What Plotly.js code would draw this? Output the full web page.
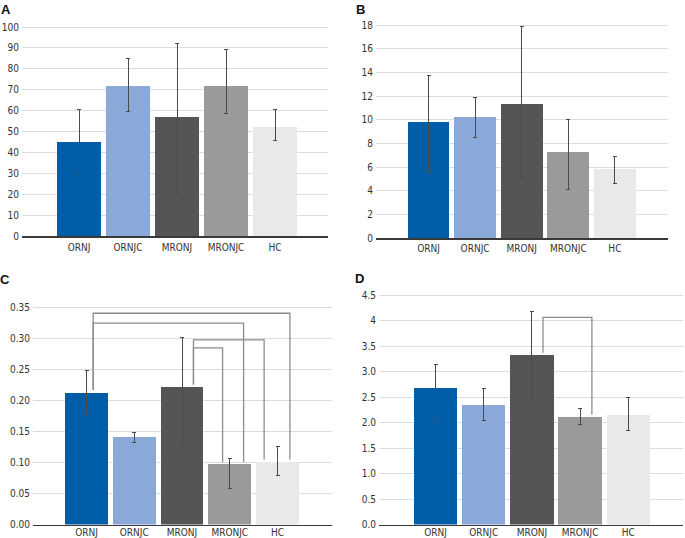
<!DOCTYPE html>
<html><head><meta charset="utf-8">
<script src="https://cdn.plot.ly/plotly-3.0.1.min.js"></script>
<style>html,body{margin:0;padding:0;background:#fff}#chart{width:685px;height:538px}</style>
</head><body><div id="chart"></div>
<script>
// ---------- data ----------
const categories = ['ORNJ', 'ORNJC', 'MRONJ', 'MRONJC', 'HC'];

const valuesA    = [45, 72, 57, 72, 52];
const errPlusA   = [15.5, 13, 35, 17, 8.5];
const errMinusA  = [16, 12.5, 36.5, 13.5, 6.5];
const tickValsA  = [0, 10, 20, 30, 40, 50, 60, 70, 80, 90, 100];
const tickTextA  = ['0', '10', '20', '30', '40', '50', '60', '70', '80', '90', '100'];

const valuesB    = [9.8, 10.2, 11.3, 7.3, 5.8];
const errPlusB   = [3.9, 1.7, 6.55, 2.7, 1.1];
const errMinusB  = [4.2, 1.7, 6.2, 3.2, 1.2];
const tickValsB  = [0, 2, 4, 6, 8, 10, 12, 14, 16, 18];
const tickTextB  = ['0', '2', '4', '6', '8', '10', '12', '14', '16', '18'];

const valuesC    = [0.213, 0.142, 0.222, 0.097, 0.101];
const errPlusC   = [0.035, 0.007, 0.080, 0.009, 0.025];
const errMinusC  = [0.035, 0.009, 0.092, 0.039, 0.022];
const tickValsC  = [0, 0.05, 0.10, 0.15, 0.20, 0.25, 0.30, 0.35];
const tickTextC  = ['0.00', '0.05', '0.10', '0.15', '0.20', '0.25', '0.30', '0.35'];
const bracketFromC  = [0, 0, 2, 2];
const bracketToC    = [4, 3, 4, 3];
const bracketLevelC = [0.341, 0.325, 0.298, 0.285];

const valuesD    = [2.67, 2.35, 3.32, 2.11, 2.15];
const errPlusD   = [0.46, 0.31, 0.86, 0.16, 0.34];
const errMinusD  = [0.60, 0.32, 0.85, 0.15, 0.31];
const tickValsD  = [0, 0.5, 1, 1.5, 2, 2.5, 3, 3.5, 4, 4.5];
const tickTextD  = ['0.0', '0.5', '1.0', '1.5', '2.0', '2.5', '3.0', '3.5', '4', '4.5'];
const bracketFromD  = [2];
const bracketToD    = [3];
const bracketLevelD = [4.06];

// ---------- styling / geometry ----------
const W = 685, H = 538;
const colors = ['#005da8', '#8aa8d8', '#555456', '#9a9a9a', '#e9e9e9'];
const FONT = '"DejaVu Sans Condensed", "Liberation Sans Narrow", sans-serif';

const panels = [
  {key: 'A', vals: valuesA, ep: errPlusA, em: errMinusA, tv: tickValsA, tt: tickTextA,
   left: 22, right: 328, c0: 79, step: 49, zeroY: 236, topTickY: 27, topTick: 100,
   lx: 6, ly: 9, xso: 1},
  {key: 'B', vals: valuesB, ep: errPlusB, em: errMinusB, tv: tickValsB, tt: tickTextB,
   left: 376, right: 668, c0: 428.5, step: 46.6, zeroY: 238, topTickY: 25, topTick: 18,
   lx: 360, ly: 9, xso: 0},
  {key: 'C', vals: valuesC, ep: errPlusC, em: errMinusC, tv: tickValsC, tt: tickTextC,
   left: 33, right: 332, c0: 86.5, step: 47.75, zeroY: 524.5, topTickY: 307.7, topTick: 0.35,
   lx: 5, ly: 279, xso: -2,
   br: {from: bracketFromC, to: bracketToC, level: bracketLevelC,
        fromOff: [0.14, 0.14, 0.24, 0.24], toOff: [0.26, 0.29, -0.28, -0.15]}},
  {key: 'D', vals: valuesD, ep: errPlusD, em: errMinusD, tv: tickValsD, tt: tickTextD,
   left: 379, right: 683, c0: 435.5, step: 48.2, zeroY: 524.5, topTickY: 295, topTick: 4.5,
   lx: 359, ly: 278, xso: -2,
   br: {from: bracketFromD, to: bracketToD, level: bracketLevelD,
        fromOff: [0.23], toOff: [0.245]}}
];

const traces = [];
const layout = {
  width: W, height: H, margin: {l: 0, r: 0, t: 0, b: 0},
  paper_bgcolor: '#fff', plot_bgcolor: '#fff',
  showlegend: false, hovermode: false, bargap: 0,
  font: {family: FONT, size: 10, color: '#333'},
  annotations: []
};

panels.forEach((p, i) => {
  const n = i === 0 ? '' : String(i + 1);
  const xa = 'x' + n, ya = 'y' + n;
  const pxPerUnit = (p.zeroY - p.topTickY) / p.topTick;
  const plotTop = p.topTickY - 3;
  const xs = categories.map((c, k) => k);

  traces.push({
    type: 'bar', x: xs, y: p.vals, xaxis: xa, yaxis: ya, width: 0.9,
    marker: {color: colors, line: {width: 0}},
    error_y: {type: 'data', symmetric: false, array: p.ep, arrayminus: p.em,
              color: '#4a4a4a', thickness: 1, width: 2},
    hoverinfo: 'skip'
  });

  if (p.br) {
    const gap = 2.5 / pxPerUnit;
    p.br.from.forEach((f, j) => {
      const t = p.br.to[j];
      const x1 = f + p.br.fromOff[j], x2 = t + p.br.toOff[j];
      traces.push({
        type: 'scatter', mode: 'lines', xaxis: xa, yaxis: ya,
        x: [x1, x1, x2, x2],
        y: [p.vals[f] + gap, p.br.level[j], p.br.level[j], p.vals[t] + gap],
        line: {color: '#8c8c8c', width: 1.3}, hoverinfo: 'skip'
      });
    });
  }

  layout['xaxis' + n] = {
    domain: [p.left / W, p.right / W], anchor: ya,
    range: [(p.left - p.c0) / p.step, (p.right - p.c0) / p.step],
    tickvals: xs, ticktext: categories, ticks: '', showgrid: false, zeroline: false,
    showline: true, linecolor: '#3a3a3a', linewidth: 1.5, ticklabelstandoff: p.xso,
    tickfont: {family: FONT, size: 10, color: '#333'}, fixedrange: true
  };
  layout['yaxis' + n] = {
    domain: [1 - p.zeroY / H, 1 - plotTop / H], anchor: xa,
    range: [0, (p.zeroY - plotTop) / pxPerUnit],
    tickvals: p.tv, ticktext: p.tt, ticks: '', showgrid: true, gridcolor: '#dcdcdc', gridwidth: 1,
    zeroline: false, showline: false, ticklabelstandoff: 2,
    tickfont: {family: FONT, size: 10, color: '#333'}, fixedrange: true
  };
  layout.annotations.push({
    text: '<b>' + p.key + '</b>', xref: 'paper', yref: 'paper',
    x: p.lx / W, y: 1 - p.ly / H, xanchor: 'center', yanchor: 'middle', showarrow: false,
    font: {family: '"Liberation Sans", Arial, sans-serif', size: 13, color: '#111'}
  });
});

Plotly.newPlot('chart', traces, layout, {displayModeBar: false, staticPlot: true});
</script>
</body></html>
